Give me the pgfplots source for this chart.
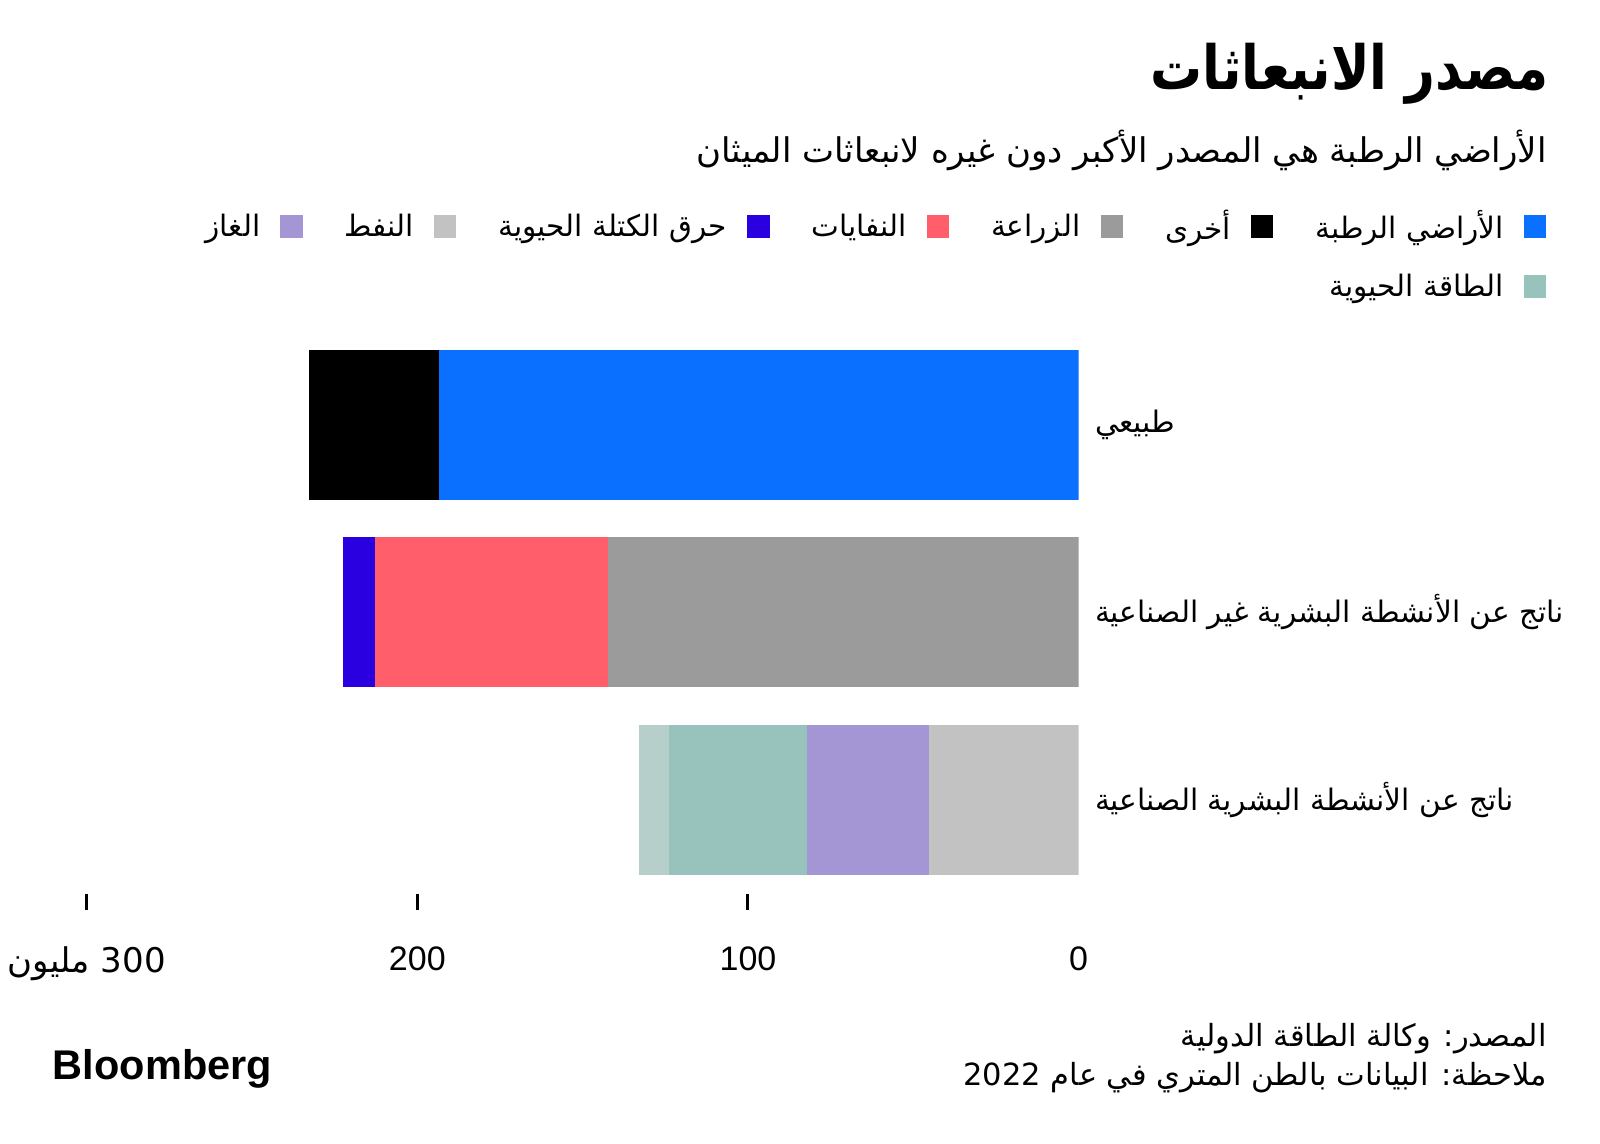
\documentclass[border=0pt]{standalone}
\usepackage{fontspec}
\usepackage{pgfplots}
\pgfplotsset{compat=1.18}
\setmainfont{Liberation Sans}
\newfontfamily\arabicfont[Script=Arabic]{DejaVu Sans}
\newfontfamily\arabictitle[Script=Arabic,FakeStretch=0.85]{DejaVu Sans}
\TeXXeTstate=1
\newcommand{\ar}[1]{{\arabicfont\beginR #1\endR}}
\definecolor{wetl}{HTML}{0A70FF}
\definecolor{othr}{HTML}{000000}
\definecolor{agri}{HTML}{9B9B9B}
\definecolor{wast}{HTML}{FF5E6A}
\definecolor{biom}{HTML}{2A00E0}
\definecolor{oilc}{HTML}{C2C2C2}
\definecolor{gasc}{HTML}{A495D4}
\definecolor{bioe}{HTML}{98C3BD}
\definecolor{coal}{HTML}{B6CFCA}
\pgfplotsset{lsq/.style={legend image code/.code={\fill[##1, draw=none] (0pt,-5.6pt) rectangle (11.2pt,5.6pt);}}}
\begin{document}
\begin{tikzpicture}[x=1pt,y=1pt]
\fill[white] (0,0) rectangle (800,-572);
\useasboundingbox (0,0) rectangle (800,-572);
\node[anchor=east,inner sep=0pt] at (774.5,-37) {\fontsize{30.5}{36}\selectfont\bfseries\arabictitle\beginR مصدر الانبعاثات\endR};
\node[anchor=east,inner sep=0pt] at (773.5,-75) {\fontsize{17}{20}\selectfont\arabicfont\beginR الأراضي الرطبة هي المصدر الأكبر دون غيره لانبعاثات الميثان\endR};
\begin{axis}[
  at={(539.3pt,-165.6pt)}, anchor=north east,
  scale only axis, width=495.95pt, height=281.25pt,
  xmin=0, xmax=300, ymin=-0.5, ymax=2.5,
  x dir=reverse, y dir=reverse,
  xbar stacked, bar width=75pt,
  axis line style={draw=none},
  tick align=outside, major tick length=8pt,
  xtick={100,200,300}, xticklabels={100,200,{{\arabicfont\beginR 300 مليون\endR}}},
  extra x ticks={0}, extra x tick labels={0}, extra x tick style={xtick style={draw=none}},
  xtick style={black, line width=1.5pt},
  xtick pos=bottom,
  xticklabel style={font=\fontsize{17}{20}\selectfont, anchor=north, inner sep=0pt, yshift=-18.5pt},
  /pgf/number format/assume math mode=true,
  ytick={0,1,2},
  yticklabels={{\arabicfont\beginR طبيعي\endR},{\arabicfont\beginR ناتج عن الأنشطة البشرية غير الصناعية\endR},{\arabicfont\beginR ناتج عن الأنشطة البشرية الصناعية\endR}},
  yticklabel pos=right, ytick style={draw=none},
  yticklabel style={font=\fontsize{14.8}{18}\selectfont, anchor=west, inner sep=0pt},
  legend columns=7, legend plot pos=right, legend cell align=right,
  legend style={at={(1.4718,1.223)}, anchor=north east, draw=none, fill=none, inner sep=0pt,
    font=\fontsize{14.75}{17}\selectfont,
    /tikz/column sep=8.1pt, /tikz/every even column/.append style={column sep=19pt},
    /tikz/row sep=11.5pt},
]
\addplot[fill=wetl, draw=none, forget plot] coordinates {(193.5,0) (0,1) (0,2)};
\addplot[fill=othr, draw=none, forget plot] coordinates {(39.2,0) (0,1) (0,2)};
\addplot[fill=agri, draw=none, forget plot] coordinates {(0,0) (142.3,1) (0,2)};
\addplot[fill=wast, draw=none, forget plot] coordinates {(0,0) (70.4,1) (0,2)};
\addplot[fill=biom, draw=none, forget plot] coordinates {(0,0) (9.8,1) (0,2)};
\addplot[fill=oilc, draw=none, forget plot] coordinates {(0,0) (0,1) (45.1,2)};
\addplot[fill=gasc, draw=none, forget plot] coordinates {(0,0) (0,1) (37.0,2)};
\addplot[fill=bioe, draw=none, forget plot] coordinates {(0,0) (0,1) (41.7,2)};
\addplot[fill=coal, draw=none, forget plot] coordinates {(0,0) (0,1) (9.3,2)};
\addlegendimage{lsq, fill=gasc}\addlegendentry{\ar{الغاز}}
\addlegendimage{lsq, fill=oilc}\addlegendentry{\ar{النفط}}
\addlegendimage{lsq, fill=biom}\addlegendentry{{\arabicfont\beginR حرق الكتلة الحيوية\endR}}
\addlegendimage{lsq, fill=wast}\addlegendentry{\ar{النفايات}}
\addlegendimage{lsq, fill=agri}\addlegendentry{\ar{الزراعة}}
\addlegendimage{lsq, fill=othr}\addlegendentry{\ar{أخرى}}
\addlegendimage{lsq, fill=wetl}\addlegendentry{{\arabicfont\beginR الأراضي الرطبة\endR}}
\addlegendimage{empty legend}\addlegendentry{}
\addlegendimage{empty legend}\addlegendentry{}
\addlegendimage{empty legend}\addlegendentry{}
\addlegendimage{empty legend}\addlegendentry{}
\addlegendimage{empty legend}\addlegendentry{}
\addlegendimage{empty legend}\addlegendentry{}
\addlegendimage{lsq, fill=bioe}\addlegendentry{{\arabicfont\beginR الطاقة الحيوية\endR}}
\end{axis}
\node[anchor=east,inner sep=0pt] at (773.5,-519.5) {\fontsize{15.25}{18}\selectfont\arabicfont\beginR المصدر: وكالة الطاقة الدولية\endR};
\node[anchor=east,inner sep=0pt] at (773.5,-539) {\fontsize{15.25}{18}\selectfont\arabicfont\beginR ملاحظة: البيانات بالطن المتري في عام 2022\endR};
\node[inner sep=0pt] at (81.25,-534.5) {\resizebox{109.5pt}{!}{\bfseries Bloomberg}};
\end{tikzpicture}
\end{document}
